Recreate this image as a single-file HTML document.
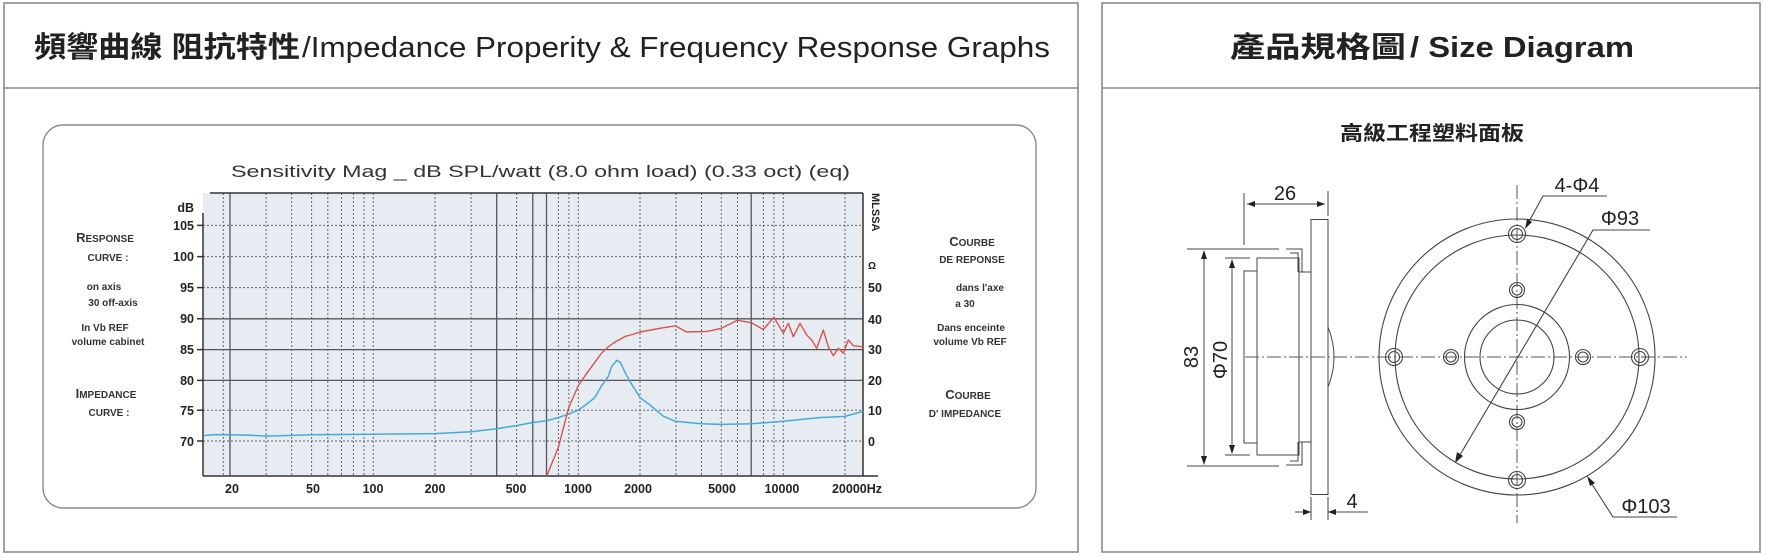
<!DOCTYPE html>
<html><head><meta charset="utf-8"><style>
html,body{margin:0;padding:0;background:#fff;}
svg{display:block;}
text{font-family:"Liberation Sans","Noto Sans CJK TC",sans-serif;}
</style></head><body>
<svg width="1766" height="557" viewBox="0 0 1766 557" xmlns="http://www.w3.org/2000/svg">
<!-- panels -->
<rect x="4" y="3" width="1074" height="549" fill="none" stroke="#8a8a8a" stroke-width="1.6"/>
<line x1="4" y1="88" x2="1078" y2="88" stroke="#8a8a8a" stroke-width="1.6"/>
<rect x="1102" y="3" width="658" height="549" fill="none" stroke="#8a8a8a" stroke-width="1.6"/>
<line x1="1102" y1="88" x2="1760" y2="88" stroke="#8a8a8a" stroke-width="1.6"/>
<!-- titles -->
<text x="34" y="57" font-size="29" font-weight="bold" fill="#222" textLength="266" lengthAdjust="spacingAndGlyphs">頻響曲線 阻抗特性</text>
<text x="302" y="57" font-size="29" fill="#222" textLength="748" lengthAdjust="spacingAndGlyphs">/Impedance Properity &amp; Frequency Response Graphs</text>
<text x="1230" y="57" font-size="29" font-weight="bold" fill="#222" textLength="176" lengthAdjust="spacingAndGlyphs">產品規格圖</text>
<text x="1410" y="57" font-size="29" font-weight="bold" fill="#222" textLength="224" lengthAdjust="spacingAndGlyphs">/ Size Diagram</text>
<text x="1432" y="140" font-size="20" font-weight="bold" fill="#222" text-anchor="middle" textLength="184" lengthAdjust="spacingAndGlyphs">高級工程塑料面板</text>
<!-- inner box -->
<rect x="43" y="125" width="993" height="383" rx="20" fill="none" stroke="#8a8a8a" stroke-width="1.4"/>
<text x="231" y="177" font-size="17" fill="#333" textLength="619" lengthAdjust="spacingAndGlyphs">Sensitivity Mag _ dB SPL/watt (8.0 ohm load) (0.33 oct) (eq)</text>
<!-- plot -->
<rect x="203" y="193" width="660" height="283" fill="#e6ecf2"/>
<g stroke="#666" stroke-width="1" stroke-dasharray="2,2">
<line x1="203" y1="225.4" x2="863" y2="225.4"/>
<line x1="203" y1="256.6" x2="863" y2="256.6"/>
<line x1="203" y1="287.6" x2="863" y2="287.6"/>
<line x1="203" y1="410.2" x2="863" y2="410.2"/>
<line x1="203" y1="441" x2="863" y2="441"/>
</g>
<g stroke="#555" stroke-width="1.3">
<line x1="203" y1="318.8" x2="863" y2="318.8"/>
<line x1="203" y1="349.6" x2="863" y2="349.6"/>
<line x1="203" y1="380.4" x2="863" y2="380.4"/>
</g>
<g stroke="#666" stroke-width="1" stroke-dasharray="2,2">
<line x1="223.3" y1="193" x2="223.3" y2="476"/>
<line x1="266.1" y1="193" x2="266.1" y2="476"/>
<line x1="291.7" y1="193" x2="291.7" y2="476"/>
<line x1="311.6" y1="193" x2="311.6" y2="476"/>
<line x1="327.8" y1="193" x2="327.8" y2="476"/>
<line x1="341.5" y1="193" x2="341.5" y2="476"/>
<line x1="353.4" y1="193" x2="353.4" y2="476"/>
<line x1="363.9" y1="193" x2="363.9" y2="476"/>
<line x1="373.3" y1="193" x2="373.3" y2="476"/>
<line x1="435" y1="193" x2="435" y2="476"/>
<line x1="471.1" y1="193" x2="471.1" y2="476"/>
<line x1="516.6" y1="193" x2="516.6" y2="476"/>
<line x1="558.4" y1="193" x2="558.4" y2="476"/>
<line x1="568.9" y1="193" x2="568.9" y2="476"/>
<line x1="578.3" y1="193" x2="578.3" y2="476"/>
<line x1="640" y1="193" x2="640" y2="476"/>
<line x1="676" y1="193" x2="676" y2="476"/>
<line x1="701.5" y1="193" x2="701.5" y2="476"/>
<line x1="721.3" y1="193" x2="721.3" y2="476"/>
<line x1="737.5" y1="193" x2="737.5" y2="476"/>
<line x1="763.4" y1="193" x2="763.4" y2="476"/>
<line x1="773.9" y1="193" x2="773.9" y2="476"/>
<line x1="783.3" y1="193" x2="783.3" y2="476"/>
<line x1="845" y1="193" x2="845" y2="476"/>
</g>
<g stroke="#555" stroke-width="1.3">
<line x1="230" y1="193" x2="230" y2="476"/>
<line x1="496.7" y1="193" x2="496.7" y2="476"/>
<line x1="532.8" y1="193" x2="532.8" y2="476"/>
<line x1="546.5" y1="193" x2="546.5" y2="476"/>
<line x1="751.2" y1="193" x2="751.2" y2="476"/>
</g>
<g stroke="#333" stroke-width="1.5" fill="none">
<line x1="210" y1="193" x2="863" y2="193"/>
<line x1="203" y1="213" x2="203" y2="476"/>
<line x1="203" y1="476" x2="878" y2="476"/>
<line x1="863" y1="193" x2="863" y2="476"/>
<path d="M197 225.4H203M197 256.6H203M197 287.6H203M197 318.8H203M197 349.6H203M197 380.4H203M197 410.2H203M197 441H203"/>
</g>
<!-- curves -->
<polyline fill="none" stroke="#47a9d8" stroke-width="1.5" stroke-linejoin="round" points="204.4,435.5 215,434.6 230,434.8 250,435.2 266.1,436.1 311.6,434.8 373.3,434.2 435,433.6 471.1,431.8 496.7,428.7 516.6,425.6 532.8,422.5 546.5,420.7 558.4,417.6 568.9,413.9 578.3,410.2 586.8,404 594.5,397.9 601.7,385.6 608.3,376.3 611.4,367 616.7,360.3 620.2,362.2 625.5,373.2 630.6,382.5 640.2,397.9 648.7,404 659.9,413.3 663.7,416.4 675.4,421.3 701,423.8 721.3,424.4 751.2,423.8 783.3,421.3 819.4,417.6 845,416.4 863,411.4"/>
<polyline fill="none" stroke="#d9534f" stroke-width="1.4" stroke-linejoin="round" points="546.7,476 558.4,447.2 568.9,407.1 578.3,385.6 586.8,373.2 594.5,362.8 601.7,352.9 608.3,346.8 614.4,342.4 625.5,336.3 630.6,335 640.2,332 659.9,328.3 675.4,325.8 686.5,332 707.2,331.4 721.3,328.3 737.5,320.3 751.2,322.7 763.4,329.5 773.9,317.2 783.3,333.3 788.3,323.3 793.3,336.7 800,323.3 806.7,335 811.7,340 816.7,348.3 823.3,330 828.3,346.7 833.3,355.7 838.3,348.3 843.3,353.3 848.3,340 853.3,345.7 861.7,346.7 863,347"/>
<!-- axis labels -->
<g font-size="12.5" font-weight="bold" fill="#222" text-anchor="end">
<text x="194" y="212">dB</text>
<text x="194" y="230">105</text>
<text x="194" y="261">100</text>
<text x="194" y="292">95</text>
<text x="194" y="323">90</text>
<text x="194" y="354">85</text>
<text x="194" y="385">80</text>
<text x="194" y="415">75</text>
<text x="194" y="446">70</text>
</g>
<g font-size="12.5" font-weight="bold" fill="#222" text-anchor="start">
<text x="868" y="269" font-size="10">Ω</text>
<text x="868" y="292">50</text>
<text x="868" y="324">40</text>
<text x="868" y="354">30</text>
<text x="868" y="385">20</text>
<text x="868" y="415">10</text>
<text x="868" y="446">0</text>
</g>
<text transform="translate(872,193) rotate(90)" font-size="11" font-weight="bold" fill="#222">MLSSA</text>
<g font-size="12.5" font-weight="bold" fill="#222" text-anchor="middle">
<text x="232" y="493">20</text>
<text x="313" y="493">50</text>
<text x="373" y="493">100</text>
<text x="435" y="493">200</text>
<text x="516" y="493">500</text>
<text x="578" y="493">1000</text>
<text x="638" y="493">2000</text>
<text x="722" y="493">5000</text>
<text x="782" y="493">10000</text>
<text x="857" y="493">20000Hz</text>
</g>
<!-- side texts -->
<g font-weight="bold" fill="#333" text-anchor="middle" font-size="10">
<text x="105" y="242"><tspan font-size="13">R</tspan>ESPONSE</text>
<text x="108" y="261">CURVE :</text>
<text x="104" y="290">on axis</text>
<text x="113" y="306">30  off-axis</text>
<text x="105" y="331">In Vb REF</text>
<text x="108" y="345">volume cabinet</text>
<text x="106" y="398"><tspan font-size="13">I</tspan>MPEDANCE</text>
<text x="109" y="416">CURVE :</text>
<text x="972" y="246"><tspan font-size="13">C</tspan>OURBE</text>
<text x="972" y="263">DE REPONSE</text>
<text x="980" y="291">dans l'axe</text>
<text x="965" y="307">a 30</text>
<text x="971" y="331">Dans enceinte</text>
<text x="970" y="345">volume  Vb REF</text>
<text x="968" y="399"><tspan font-size="13">C</tspan>OURBE</text>
<text x="965" y="417">D' IMPEDANCE</text>
</g>
<!-- size diagram: side view -->
<g stroke="#444" stroke-width="1" fill="none">
<rect x="1311" y="219.5" width="17" height="275"/>
<rect x="1257" y="258" width="42" height="197"/>
<rect x="1244" y="271" width="13" height="172"/>
<rect x="1299" y="272" width="12" height="170"/>
<path d="M1286 249H1302V272M1290 253H1298V272"/>
<path d="M1286 465H1302V442M1290 461H1298V442"/>
<path d="M1328 327Q1340 357 1328 387"/>
<line x1="1244" y1="193" x2="1244" y2="245"/>
<line x1="1328" y1="191" x2="1328" y2="216"/>
<line x1="1247" y1="204" x2="1325" y2="204"/>
<line x1="1187" y1="249" x2="1279" y2="249"/>
<line x1="1187" y1="466" x2="1279" y2="466"/>
<line x1="1204" y1="252" x2="1204" y2="463"/>
<line x1="1225" y1="258" x2="1250" y2="258"/>
<line x1="1225" y1="455" x2="1250" y2="455"/>
<line x1="1232" y1="261" x2="1232" y2="452"/>
<line x1="1311" y1="497" x2="1311" y2="520"/>
<line x1="1328" y1="497" x2="1328" y2="520"/>
<line x1="1295" y1="512" x2="1311" y2="512"/>
<line x1="1328" y1="512" x2="1368" y2="512"/>
</g>
<g fill="#222">
<path d="M1247 204l8-3v6z M1325 204l-8-3v6z"/>
<path d="M1204 250l-3 9h6z M1204 465l-3-9h6z"/>
<path d="M1232 259l-3 9h6z M1232 454l-3-9h6z"/>
<path d="M1311 512l-8-3v6z M1328 512l8-3v6z"/>
</g>
<g font-size="20" fill="#222">
<text x="1285" y="200" text-anchor="middle">26</text>
<text x="1352" y="508" text-anchor="middle">4</text>
<text transform="translate(1198,357) rotate(-90)" text-anchor="middle">83</text>
<text transform="translate(1227,360) rotate(-90)" text-anchor="middle">Φ70</text>
</g>
<!-- front view -->
<g stroke="#555" stroke-width="1" fill="none" stroke-dasharray="14,3,2,3">
<line x1="1245" y1="357" x2="1687" y2="357"/>
<line x1="1517" y1="185" x2="1517" y2="523"/>
</g>
<g stroke="#444" stroke-width="1.1" fill="none">
<circle cx="1517" cy="357" r="138"/>
<circle cx="1517" cy="357" r="122"/>
<circle cx="1517" cy="357" r="52.5"/>
<circle cx="1517" cy="357" r="37"/>
<circle cx="1517" cy="234" r="8.5"/><circle cx="1517" cy="234" r="5.5"/>
<circle cx="1517" cy="480" r="8.5"/><circle cx="1517" cy="480" r="5.5"/>
<circle cx="1394" cy="357" r="8.5"/><circle cx="1394" cy="357" r="5.5"/>
<circle cx="1640" cy="357" r="8.5"/><circle cx="1640" cy="357" r="5.5"/>
<circle cx="1517" cy="290" r="7.5"/><circle cx="1517" cy="290" r="5"/>
<circle cx="1517" cy="422" r="7.5"/><circle cx="1517" cy="422" r="5"/>
<circle cx="1451" cy="357" r="7.5"/><circle cx="1451" cy="357" r="5"/>
<circle cx="1583" cy="357" r="7.5"/><circle cx="1583" cy="357" r="5"/>
<path d="M1457 460L1593 230H1650"/>
<path d="M1526 227L1543 196H1607"/>
<path d="M1588 478L1613 517H1677"/>
</g>
<g fill="#222">
<path d="M1455 463l2-11 6 4z"/>
<path d="M1525 229l2-10 5 3z"/>
<path d="M1587 476l8 7 -5 3z"/>
</g>
<g font-size="20" fill="#222">
<text x="1577" y="192" text-anchor="middle">4-Φ4</text>
<text x="1620" y="225" text-anchor="middle">Φ93</text>
<text x="1646" y="513" text-anchor="middle">Φ103</text>
</g>
</svg>
</body></html>
